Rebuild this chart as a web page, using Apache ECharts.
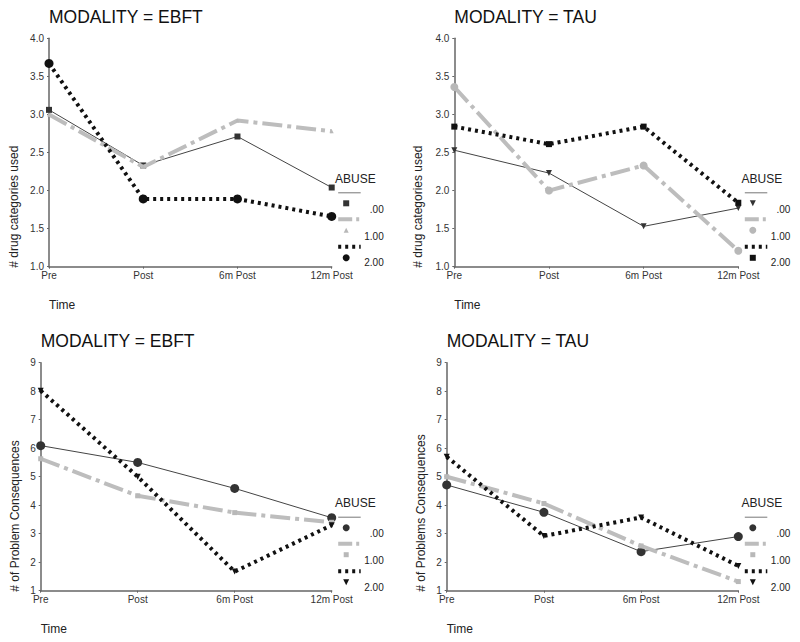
<!DOCTYPE html>
<html>
<head>
<meta charset="utf-8">
<script src="https://cdn.jsdelivr.net/npm/echarts@6/dist/echarts.min.js"></script>
<style>html,body{margin:0;padding:0;background:#fff}#c{width:800px;height:642px}</style>
</head>
<body>
<div id="c"></div>
<script>
// ---- data ----
const categories = ['Pre', 'Post', '6m Post', '12m Post'];
const abuseLevels = ['.00', '1.00', '2.00'];
const legendTitle = 'ABUSE';
const xName = 'Time';
const titles = ['MODALITY = EBFT', 'MODALITY = TAU', 'MODALITY = EBFT', 'MODALITY = TAU'];
const yNames = ['# drug categories used', '# drug categories used', '# of Problem Consequences', '# of Problems Consequences'];

// # drug categories used, EBFT
const drugEBFT_00 = [3.06, 2.33, 2.71, 2.04];
const drugEBFT_100 = [3.00, 2.31, 2.92, 2.78];
const drugEBFT_200 = [3.67, 1.89, 1.89, 1.66];
// # drug categories used, TAU
const drugTAU_00 = [2.53, 2.23, 1.53, 1.77];
const drugTAU_100 = [3.36, 2.00, 2.33, 1.21];
const drugTAU_200 = [2.84, 2.61, 2.84, 1.84];
// # problem consequences, EBFT
const probEBFT_00 = [6.09, 5.50, 4.59, 3.56];
const probEBFT_100 = [5.63, 4.33, 3.74, 3.40];
const probEBFT_200 = [8.02, 5.00, 1.67, 3.30];
// # problem consequences, TAU
const probTAU_00 = [4.71, 3.75, 2.37, 2.90];
const probTAU_100 = [5.00, 4.06, 2.57, 1.32];
const probTAU_200 = [5.70, 2.92, 3.57, 1.87];

// axis ticks
const drugTicks = { min: 1, max: 4, interval: 0.5, decimals: 1 };
const probTicks = { min: 1, max: 9, interval: 1, decimals: 0 };

// ---- styling / layout ----
const FONT = '"Liberation Sans", Arial, Helvetica, sans-serif';
const lineStyles = [
  { color: '#444', width: 1, type: 'solid' },
  { color: '#bdbdbd', width: 4, type: [20, 5, 4, 5] },
  { color: '#111', width: 4, type: [3, 4] }
];
const legendDash = ['solid', [14, 4, 3, 4], [3, 4]];
const markerColors = ['#333', '#b8b8b8', '#111'];

const panels = [
  { grid: { left: 49, top: 38.3, width: 282.7, height: 228.4 }, ticks: drugTicks, data: [drugEBFT_00, drugEBFT_100, drugEBFT_200],
    sym: ['rect', 'triangle', 'circle'], rot: [0, 0, 0], size: [6, 4, 9], legSize: [6, 5, 7], yNameOff: 35.5 },
  { grid: { left: 454.3, top: 38.3, width: 284, height: 228.4 }, ticks: drugTicks, data: [drugTAU_00, drugTAU_100, drugTAU_200],
    sym: ['triangle', 'circle', 'rect'], rot: [180, 0, 0], size: [6, 8, 6], legSize: [6, 7, 6], yNameOff: 36 },
  { grid: { left: 40.7, top: 362.7, width: 291, height: 228 }, ticks: probTicks, data: [probEBFT_00, probEBFT_100, probEBFT_200],
    sym: ['circle', 'rect', 'triangle'], rot: [0, 0, 180], size: [9, 5, 6], legSize: [7, 5, 6], yNameOff: 25.7 },
  { grid: { left: 446.7, top: 362.7, width: 291.6, height: 228 }, ticks: probTicks, data: [probTAU_00, probTAU_100, probTAU_200],
    sym: ['circle', 'rect', 'triangle'], rot: [0, 0, 180], size: [9, 5, 6], legSize: [7, 5, 6], yNameOff: 26 }
];

const grids = [], xAxes = [], yAxes = [], series = [], graphics = [];

function markerGraphic(kind, rotDeg, cx, cy, size, color) {
  if (kind === 'circle') return { type: 'circle', shape: { cx, cy, r: size / 2 }, style: { fill: color } };
  if (kind === 'rect') return { type: 'rect', shape: { x: cx - size / 2, y: cy - size / 2, width: size, height: size }, style: { fill: color } };
  const h = size / 2;
  const pts = rotDeg === 180 ? [[cx - h, cy - h], [cx + h, cy - h], [cx, cy + h]] : [[cx - h, cy + h], [cx + h, cy + h], [cx, cy - h]];
  return { type: 'polygon', shape: { points: pts }, style: { fill: color } };
}

panels.forEach((p, i) => {
  const g = p.grid;
  grids.push(Object.assign({ containLabel: false }, g));
  xAxes.push({
    type: 'category', gridIndex: i, data: categories, boundaryGap: false,
    axisLine: { lineStyle: { color: '#666', width: 1.5 } },
    axisTick: { show: true, length: 2, lineStyle: { color: '#666' } },
    axisLabel: { color: '#333', fontSize: 10, fontFamily: FONT, margin: 4, interval: 0 },
    splitLine: { show: false }
  });
  yAxes.push({
    type: 'value', gridIndex: i, min: p.ticks.min, max: p.ticks.max, interval: p.ticks.interval,
    axisLine: { show: true, lineStyle: { color: '#666', width: 1.5 } },
    axisTick: { show: true, length: 2, lineStyle: { color: '#666' } },
    axisLabel: { color: '#333', fontSize: 10, fontFamily: FONT, margin: 5,
      formatter: v => v.toFixed(p.ticks.decimals) },
    splitLine: { show: false }
  });
  p.data.forEach((vals, k) => {
    series.push({
      type: 'line', name: abuseLevels[k], xAxisIndex: i, yAxisIndex: i, data: vals,
      symbol: p.sym[k], symbolRotate: p.rot[k], symbolSize: p.size[k], showSymbol: true,
      lineStyle: { color: lineStyles[k].color, width: lineStyles[k].width, type: lineStyles[k].type },
      itemStyle: { color: markerColors[k], borderWidth: 0 },
      silent: true, animation: false, z: 2 + k
    });
  });

  const R = g.left + g.width, T = g.top, B = g.top + g.height;
  // title
  graphics.push({ type: 'text', x: g.left, y: T - 21.5,
    style: { text: titles[i], font: '17.5px ' + FONT, fill: '#111', verticalAlign: 'middle', align: 'left' } });
  // x name
  graphics.push({ type: 'text', x: g.left, y: B + 38.5,
    style: { text: xName, font: '12px ' + FONT, fill: '#222', verticalAlign: 'middle', align: 'left' } });
  // y name (rotated)
  graphics.push({ type: 'text', x: g.left - p.yNameOff, y: B + 1, rotation: Math.PI / 2,
    style: { text: yNames[i], font: '12px ' + FONT, fill: '#222', verticalAlign: 'middle', align: 'left' } });
  // legend
  graphics.push({ type: 'text', x: R + 3.3, y: T + 140.5,
    style: { text: legendTitle, font: '12px ' + FONT, fill: '#222', verticalAlign: 'middle', align: 'left' } });
  const lineY = [154.5, 181, 208.5], markY = [165, 192, 219.5], labY = [171, 198, 224.5];
  for (let k = 0; k < 3; k++) {
    graphics.push({ type: 'line', shape: { x1: R + 6.5, y1: T + lineY[k], x2: R + 29, y2: T + lineY[k] },
      style: { stroke: k === 0 ? '#777' : lineStyles[k].color, lineWidth: k === 0 ? 1 : lineStyles[k].width, lineDash: legendDash[k] === 'solid' ? null : legendDash[k] } });
    graphics.push(markerGraphic(p.sym[k], p.rot[k], R + 14.5, T + markY[k], p.legSize[k], markerColors[k]));
    graphics.push({ type: 'text', x: R + 52, y: T + labY[k],
      style: { text: abuseLevels[k], font: '10px ' + FONT, fill: '#222', verticalAlign: 'middle', align: 'right' } });
  }
});

const chart = echarts.init(document.getElementById('c'), null, { renderer: 'svg', width: 800, height: 642 });
chart.setOption({
  backgroundColor: '#fff', animation: false, textStyle: { fontFamily: FONT },
  grid: grids, xAxis: xAxes, yAxis: yAxes, series: series, graphic: graphics
});
</script>
</body>
</html>
